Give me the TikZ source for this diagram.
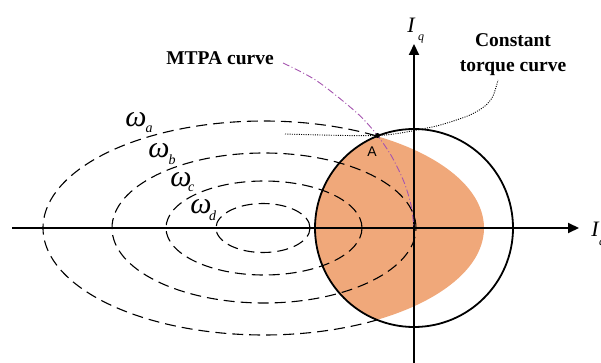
\documentclass[tikz,border=0pt]{standalone}
\usepackage{fontspec}
\setmainfont{Liberation Serif}
\newfontfamily\sansA{Liberation Sans}
\usetikzlibrary{arrows.meta}
\definecolor{regionfill}{RGB}{240,168,122}
\definecolor{mtpacol}{RGB}{165,85,175}
\begin{document}
\begin{tikzpicture}[x=1pt,y=-1pt,
  axisline/.style={line width=2pt,-{Triangle[length=11pt,width=10pt]}},
  ell/.style={line width=1.1pt,dash pattern=on 11pt off 6pt},
  lbl/.style={font=\bfseries\fontsize{19.5}{24}\selectfont,inner sep=0pt,anchor=base},
  omg/.style={font=\itshape\fontsize{30}{32}\selectfont,inner sep=0pt,anchor=base},
  subs/.style={font=\itshape\fontsize{14}{15}\selectfont,inner sep=0pt,anchor=base west},
  bigI/.style={font=\itshape\fontsize{22}{24}\selectfont,inner sep=0pt,anchor=base}]
\useasboundingbox (0,0) rectangle (601,363);
\coordinate (O) at (414,228);
\coordinate (E) at (264,228);
\coordinate (A) at (377.5,135.5);
% filled region
\begin{scope}
  \clip (O) circle[radius=99pt];
  \fill[regionfill] (E) ellipse[x radius=220pt,y radius=107pt];
\end{scope}
% ellipses
\draw[ell] plot[domain=59:301,samples=150] ({264+221*cos(\x)},{228+107*sin(\x)});
\draw[ell] (E) ellipse[x radius=152pt,y radius=75pt];
\draw[ell] (E) ellipse[x radius=98pt,y radius=47pt];
\draw[ell] (263,228) ellipse[x radius=47pt,y radius=24.5pt];
% circle
\draw[line width=1.8pt] (O) circle[radius=99pt];
% axes
\coordinate (xl) at (12,228);
\coordinate (xr) at (579,228);
\coordinate (yb) at (414,363);
\coordinate (yt) at (414,44);
\draw[axisline] (xl) -- (xr);
\draw[axisline] (yb) -- (yt);
% MTPA curve
\draw[mtpacol,line width=0.9pt,dash pattern=on 7pt off 2.5pt on 1pt off 2.5pt]
  plot[smooth] coordinates {(283,63) (317,81) (357,113) (A) (392,157) (404,182) (411,205) (414,228)};
% constant torque curve
\draw[line width=0.9pt,dash pattern=on 1pt off 1.3pt]
  plot[smooth] coordinates {(285,134) (A) (427,128) (447,123) (470,115) (485,106) (493,96) (498,80)};
\fill (A) circle[radius=2.5pt];
\node[font=\sansA\fontsize{14}{14}\selectfont,inner sep=0pt] (Alab) at (372,152) {A};
% labels
\node[lbl] (mtpa) at (220,65) {MTPA curve};
\node[lbl] (ct1) at (513,47) {Constant};
\node[lbl] (ct2) at (513,72) {torque curve};
\node[bigI] (Iq) at (411,33) {I};
\node[subs,font=\itshape\fontsize{12}{13}\selectfont] (q) at (418,41) {q};
\node[bigI] (Id) at (595,236) {I};
\node[subs,font=\itshape\fontsize{12}{13}\selectfont] (d) at (599,245) {d};
\node[omg] (wa) at (136,127) {ω};
\node[subs] (sa) at (145.5,133) {a};
\node[omg] (wb) at (159,158) {ω};
\node[subs] (sb) at (168.5,165) {b};
\node[omg] (wc) at (181,186) {ω};
\node[subs] (sc) at (188,192) {c};
\node[omg] (wd) at (201,213) {ω};
\node[subs] (sd) at (209,220) {d};
\end{tikzpicture}
\end{document}
